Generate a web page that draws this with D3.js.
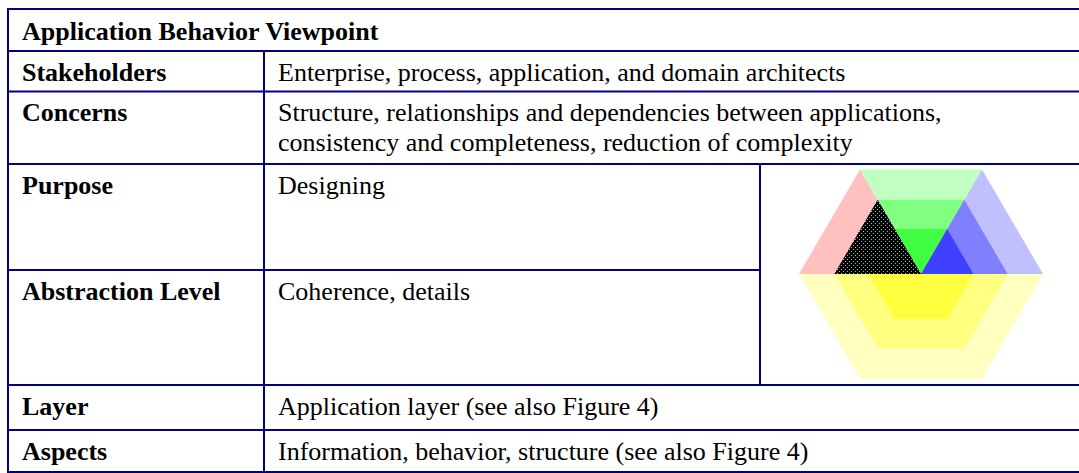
<!DOCTYPE html>
<html>
<head>
<meta charset="utf-8">
<script src="https://cdn.jsdelivr.net/npm/d3@7/dist/d3.min.js"></script>
<style>
  html, body { margin: 0; padding: 0; background: #fff; overflow: hidden; }
  svg { display: block; }
  text { font-family: "Liberation Serif", "Times New Roman", serif; fill: #000; }
</style>
</head>
<body>
<svg id="chart" width="1079" height="473"></svg>
<script>
// ---------- data ----------
const title = "Application Behavior Viewpoint";
const rowLabels = ["Stakeholders", "Concerns", "Purpose", "Abstraction Level", "Layer", "Aspects"];
const rowValues = [
  ["Enterprise, process, application, and domain architects"],
  ["Structure, relationships and dependencies between applications,",
   "consistency and completeness, reduction of complexity"],
  ["Designing"],
  ["Coherence, details"],
  ["Application layer (see also Figure 4)"],
  ["Information, behavior, structure (see also Figure 4)"]
];
// framework figure: aspects (upper triangles) and layer bands (outer -> inner)
const aspects = ["Information", "Behavior", "Structure"];
const layers = ["Business", "Application", "Technology"];
const aspectColors = [
  ["#FFC0C0", "#FF8080", "#FF4040"],
  ["#C0FFC0", "#80FF80", "#40FF40"],
  ["#C0C0FF", "#8080FF", "#4040FF"]
];
const lowerColors = ["#FFFFC0", "#FFFF80", "#FFFF40"];
const bandScale = [1, 0.71, 0.43];
const highlightAspect = "Information";
const highlightLayer = "Application";

// ---------- layout ----------
const svg = d3.select("#chart");
const border = "#000080";
const left = 8, right = 1083, colX = 264, figX = 760;
const rowTops = [9, 51, 91.5, 164, 270, 385, 430, 472];
const fontSize = 26, lineH = 30, baseOff = 29.5;

const defs = svg.append("defs");
const pat = defs.append("pattern").attr("id", "dots")
  .attr("patternUnits", "userSpaceOnUse").attr("width", 4).attr("height", 4);
pat.append("rect").attr("width", 4).attr("height", 4).attr("fill", "#000");
pat.append("rect").attr("x", 1).attr("y", 1).attr("width", 1).attr("height", 1).attr("fill", "#9cc4bc");
pat.append("rect").attr("x", 3).attr("y", 3).attr("width", 1).attr("height", 1).attr("fill", "#9cc4bc");

// ---------- figure ----------
const cx = 921, cy = 274, R = 122, H = 104.5;
const ang = d3.scaleLinear().domain([0, 3]).range([Math.PI, 0]);
const g = svg.append("g");
function vert(i, s) {
  const a = ang(i);
  return [cx + Math.cos(a) * R * s, cy - Math.sin(a) * (H / Math.sin(Math.PI / 3)) * s];
}
const line = d3.line();
aspects.forEach((asp, ai) => {
  layers.forEach((lay, li) => {
    const s = bandScale[li];
    const pts = [[cx, cy], vert(ai, s), vert(ai + 1, s)];
    g.append("path").attr("d", line(pts) + "Z").attr("fill", aspectColors[ai][li]);
  });
});
layers.forEach((lay, li) => {
  const s = bandScale[li];
  const pts = [[cx - R * s, cy], [cx + R * s, cy], [cx + R * s / 2, cy + H * s], [cx - R * s / 2, cy + H * s]];
  g.append("path").attr("d", line(pts) + "Z").attr("fill", lowerColors[li]);
});
{
  const ai = aspects.indexOf(highlightAspect);
  const s = bandScale[layers.indexOf(highlightLayer)];
  const pts = [[cx, cy], vert(ai, s), vert(ai + 1, s)];
  g.append("path").attr("d", line(pts) + "Z").attr("fill", "url(#dots)");
}

// ---------- table text ----------
const tg = svg.append("g").attr("font-size", fontSize);
tg.append("text").attr("x", 22).attr("y", rowTops[0] + baseOff + 1).attr("font-weight", "bold").text(title);
rowLabels.forEach((lab, i) => {
  const top = rowTops[i + 1];
  tg.append("text").attr("x", 22).attr("y", top + baseOff).attr("font-weight", "bold").text(lab);
  rowValues[i].forEach((ln, j) => {
    tg.append("text").attr("x", 278).attr("y", top + baseOff + j * lineH).text(ln);
  });
});

// ---------- borders ----------
const bg = svg.append("g").attr("stroke", border).attr("stroke-width", 2).attr("fill", "none");
rowTops.forEach((y, i) => {
  if (i === 4) {
    bg.append("line").attr("x1", left).attr("x2", figX).attr("y1", y).attr("y2", y);
  } else {
    bg.append("line").attr("x1", left - 1).attr("x2", right).attr("y1", y).attr("y2", y);
  }
});
bg.append("line").attr("x1", left).attr("x2", left).attr("y1", rowTops[0]).attr("y2", rowTops[7]);
bg.append("line").attr("x1", colX).attr("x2", colX).attr("y1", rowTops[1]).attr("y2", rowTops[7]);
bg.append("line").attr("x1", figX).attr("x2", figX).attr("y1", rowTops[3]).attr("y2", rowTops[5]);
</script>
</body>
</html>
